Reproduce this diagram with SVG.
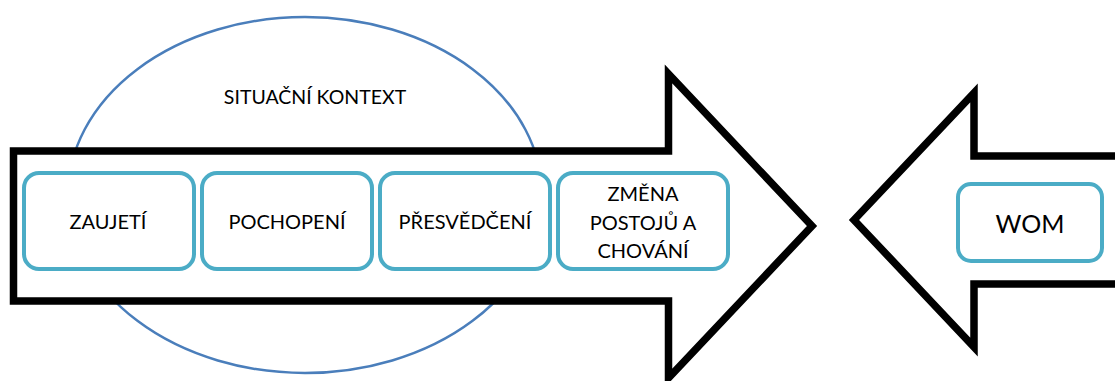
<svg xmlns="http://www.w3.org/2000/svg" width="1115" height="381" viewBox="0 0 1115 381">
<style>
.arrow{fill:#fff;stroke:#000;stroke-width:7.5;stroke-miterlimit:10}
.box{fill:#fff;stroke:#4bacc6;stroke-width:4}
.lbl{font-family:Lato,"Open Sans",sans-serif;font-size:20px;fill:#000;text-anchor:middle}
</style>
<rect width="1115" height="381" fill="#fff"/>
<g id="context">
<ellipse cx="305" cy="195" rx="237" ry="178" fill="none" stroke="#4a7ebb" stroke-width="2.5"/>
<text class="lbl" x="315" y="104" style="font-size:19.5px">SITUAČNÍ KONTEXT</text>
</g>
<g id="connectors">
<path class="arrow" d="M13.5,151 H668.5 V74 L812,226 L668.5,378 V301 H13.5 Z"/>
<path class="arrow" d="M1125,156 H974 V93 L854,220 L974,347 V284 H1125"/>
</g>
<g id="zaujeti">
<rect class="box" x="24" y="173" width="170" height="96" rx="15"/>
<text class="lbl" x="108" y="229">ZAUJETÍ</text>
</g>
<g id="pochopeni">
<rect class="box" x="202" y="173" width="170" height="96" rx="15"/>
<text class="lbl" x="287" y="229">POCHOPENÍ</text>
</g>
<g id="presvedceni">
<rect class="box" x="380" y="173" width="170" height="96" rx="15"/>
<text class="lbl" x="465" y="229">PŘESVĚDČENÍ</text>
</g>
<g id="zmena">
<rect class="box" x="558" y="173" width="170" height="96" rx="15"/>
<text class="lbl" x="643" y="201">ZMĚNA</text>
<text class="lbl" x="643" y="230">POSTOJŮ A</text>
<text class="lbl" x="643" y="258">CHOVÁNÍ</text>
</g>
<g id="wom">
<rect class="box" x="958" y="184" width="144" height="77" rx="13"/>
<text class="lbl" x="1030" y="233" style="font-size:25px">WOM</text>
</g>
</svg>
